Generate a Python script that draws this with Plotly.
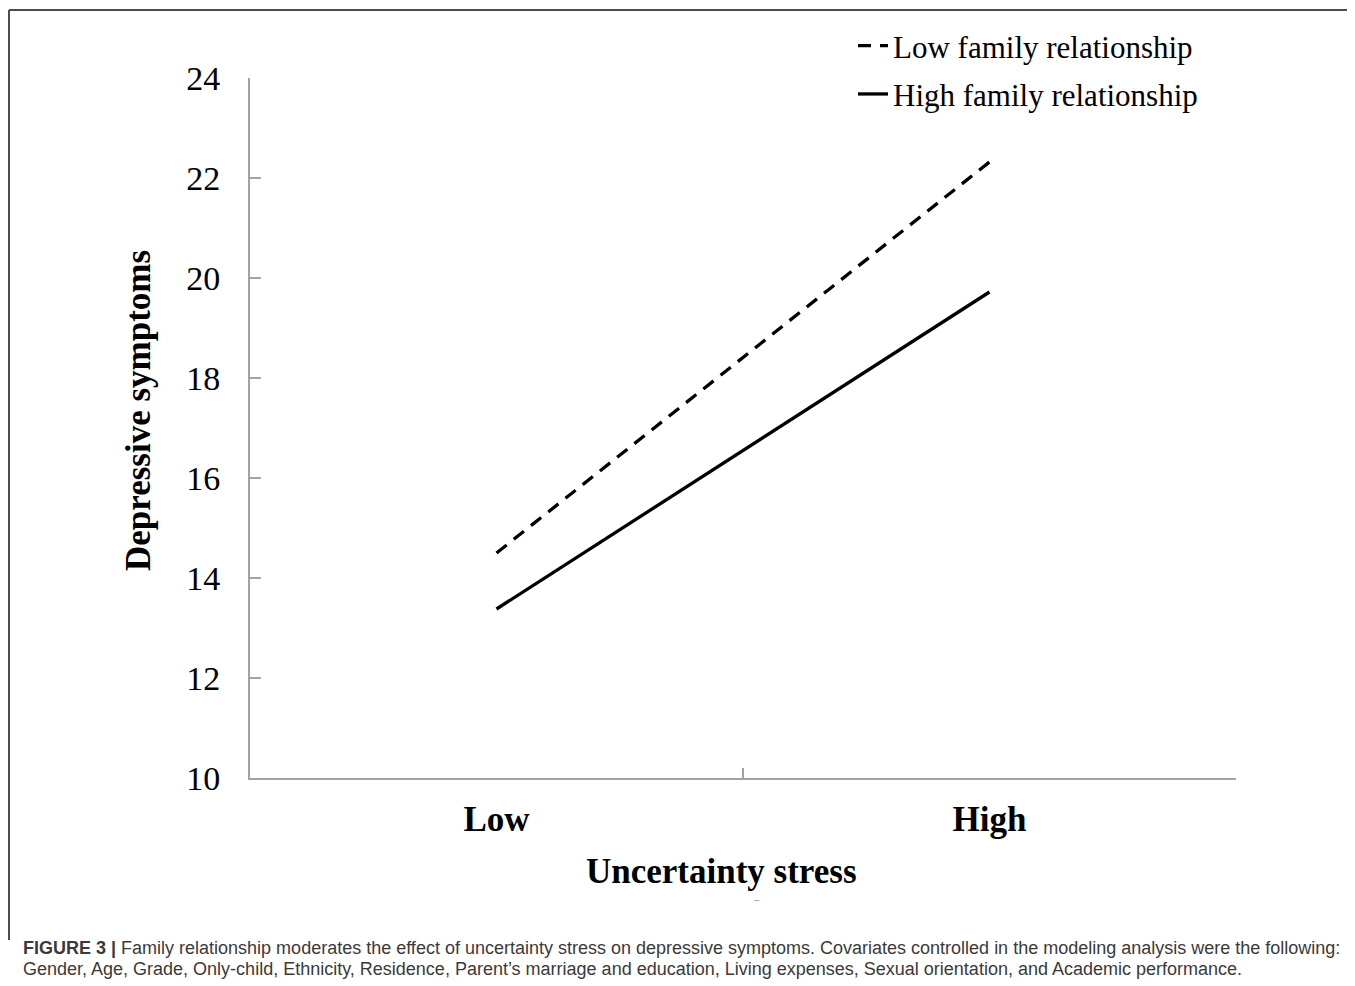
import plotly.graph_objects as go

# ---- data ----
stress_levels = ["Low", "High"]
low_family = [14.5, 22.32]
high_family = [13.38, 19.72]
series_names = ["Low family relationship", "High family relationship"]
y_ticks = [10, 12, 14, 16, 18, 20, 22, 24]

# the page places the figure 8px from the top-left corner of the window
OFF = 8
W, H = 1355 - OFF, 986 - OFF
def px(x):
    return (x - OFF) / W
def py(y):
    return 1 - (y - OFF) / H

SERIF = "Liberation Serif, Times New Roman, serif"
SANS = "Liberation Sans, Arial, Helvetica, sans-serif"
AXIS_GRAY = "#a3a3a3"

fig = go.Figure()
fig.add_trace(go.Scatter(
    x=stress_levels, y=low_family, mode="lines", name=series_names[0],
    legendgroup="a",
    line=dict(color="black", width=3.3, dash="13px,9px"),
))
fig.add_trace(go.Scatter(
    x=stress_levels, y=high_family, mode="lines", name=series_names[1],
    legendgroup="b",
    line=dict(color="black", width=3.3),
))

fig.update_layout(
    width=W, height=H,
    margin=dict(l=0, r=0, t=0, b=0, pad=0, autoexpand=False),
    paper_bgcolor="white", plot_bgcolor="white",
    showlegend=True,
    legend=dict(
        x=px(853), y=py(19), xanchor="left", yanchor="top",
        font=dict(family=SERIF, size=31, color="black"),
        bgcolor="rgba(0,0,0,0)", borderwidth=0,
        tracegroupgap=5, itemwidth=30,
    ),
    xaxis=dict(
        domain=[px(250), px(1236)],
        type="category", categoryorder="array", categoryarray=stress_levels,
        range=[-0.5, 1.5], automargin=False,
        tickson="boundaries", ticks="inside", ticklen=10, tickwidth=1.5,
        tickcolor=AXIS_GRAY,
        showline=True, linecolor=AXIS_GRAY, linewidth=2,
        showgrid=False, zeroline=False,
        tickfont=dict(family=SERIF, size=35, color="black", weight="bold"),
        ticklabelstandoff=9,
    ),
    yaxis=dict(
        domain=[py(778), py(78)],
        range=[10, 24], tickvals=y_ticks, automargin=False,
        ticks="inside", ticklen=11, tickwidth=1.5, tickcolor=AXIS_GRAY,
        showline=True, linecolor=AXIS_GRAY, linewidth=2,
        showgrid=False, zeroline=False,
        tickfont=dict(family=SERIF, size=34, color="black"),
        ticklabelstandoff=21,
    ),
)

annotations = [
    dict(text="<b>Depressive symptoms</b>", x=px(138), y=py(411),
         xref="paper", yref="paper", textangle=-90, showarrow=False,
         xanchor="center", yanchor="middle",
         font=dict(family=SERIF, size=35, color="black")),
    dict(text="<b>Uncertainty stress</b>", x=px(721), y=py(871),
         xref="paper", yref="paper", showarrow=False,
         xanchor="center", yanchor="middle",
         font=dict(family=SERIF, size=35, color="black")),
    dict(text="–", x=px(757), y=py(899), xref="paper", yref="paper",
         showarrow=False, xanchor="center", yanchor="middle",
         font=dict(family=SANS, size=10, color="#999999")),
    dict(text="<b>FIGURE 3 |</b> Family relationship moderates the effect of uncertainty stress on depressive symptoms. Covariates controlled in the modeling analysis were the following:",
         x=px(21), y=py(948), xref="paper", yref="paper", showarrow=False,
         xanchor="left", yanchor="middle",
         font=dict(family=SANS, size=18, color="#3a3a3a")),
    dict(text="Gender, Age, Grade, Only-child, Ethnicity, Residence, Parent’s marriage and education, Living expenses, Sexual orientation, and Academic performance.",
         x=px(21), y=py(969), xref="paper", yref="paper", showarrow=False,
         xanchor="left", yanchor="middle",
         font=dict(family=SANS, size=18, color="#3a3a3a")),
]
fig.update_layout(annotations=annotations)

# frame of the figure panel (top and left edges)
fig.add_shape(type="line", xref="paper", yref="paper",
              x0=px(9), x1=1, y0=py(10), y1=py(10),
              line=dict(color="#4d4d4d", width=2))
fig.add_shape(type="line", xref="paper", yref="paper",
              x0=px(9), x1=px(9), y0=py(10), y1=py(940),
              line=dict(color="#4d4d4d", width=2))

fig.write_html("out.html")
